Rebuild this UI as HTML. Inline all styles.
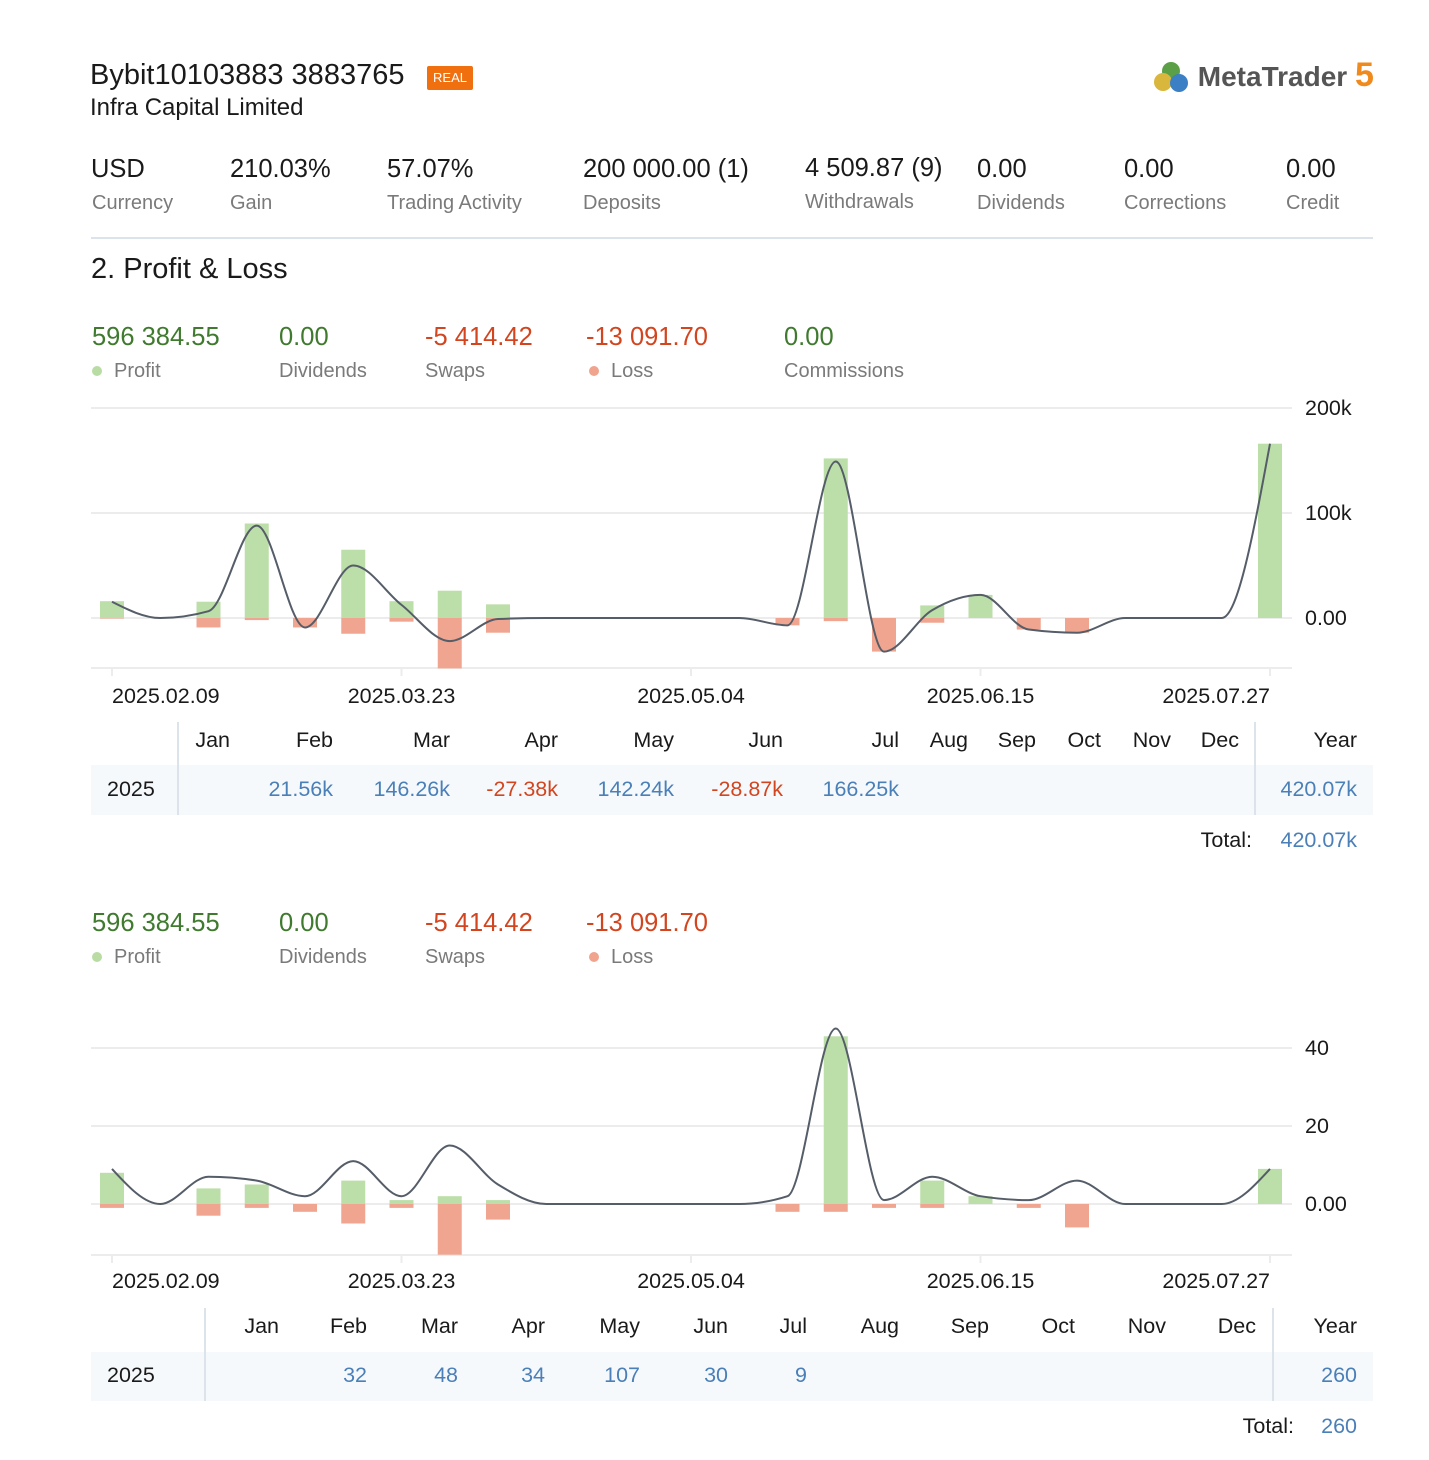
<!DOCTYPE html>
<html><head><meta charset="utf-8"><style>
body{margin:0;width:1429px;height:1460px;background:#fff;font-family:"Liberation Sans",sans-serif;position:relative;overflow:hidden;color:#1a1a1a}
.a{position:absolute;white-space:nowrap}
.v{font-size:25.5px;color:#1a1a1a}
.l{font-size:20px;color:#7a7a7a}
.g{color:#3f7a2e}.r{color:#d2451f}.b{color:#4a7fb8}
.t{font-size:21.5px}
.ra{transform:translateX(-100%)}
.dot{display:inline-block;width:10px;height:10px;border-radius:50%;margin-right:12px;vertical-align:1px}
</style></head><body>
<div class="a" style="left:90px;top:59px;font-size:29px">Bybit10103883 3883765</div>
<div class="a" style="left:427px;top:66px;width:46px;height:24px;background:#f0700f;color:#fff;font-size:13px;line-height:24px;text-align:center;border-radius:2px">REAL</div>
<div class="a" style="left:90px;top:94px;font-size:24px">Infra Capital Limited</div>
<div class="a" style="left:1152px;top:56px;font-size:28px;font-weight:bold;color:#555">
<svg width="38" height="36" style="vertical-align:-8px" viewBox="0 0 38 36"><circle cx="19" cy="13" r="9" fill="#5ba046"/><circle cx="11" cy="24" r="9" fill="#d9b73c"/><circle cx="27" cy="25" r="9" fill="#3b7fc4"/></svg> MetaTrader <span style="color:#f08a1c;font-size:34px">5</span></div>

<div>
<div class="a v" style="left:91px;top:155px">USD</div><div class="a l" style="left:92px;top:192px">Currency</div>
<div class="a v" style="left:230px;top:155px">210.03%</div><div class="a l" style="left:230px;top:192px">Gain</div>
<div class="a v" style="left:387px;top:155px">57.07%</div><div class="a l" style="left:387px;top:192px">Trading Activity</div>
<div class="a v" style="left:583px;top:155px">200 000.00 (1)</div><div class="a l" style="left:583px;top:192px">Deposits</div>
<div class="a v" style="left:805px;top:154px">4 509.87 (9)</div><div class="a l" style="left:805px;top:191px">Withdrawals</div>
<div class="a v" style="left:977px;top:155px">0.00</div><div class="a l" style="left:977px;top:192px">Dividends</div>
<div class="a v" style="left:1124px;top:155px">0.00</div><div class="a l" style="left:1124px;top:192px">Corrections</div>
<div class="a v" style="left:1286px;top:155px">0.00</div><div class="a l" style="left:1286px;top:192px">Credit</div>
</div>
<div class="a" style="left:91px;top:237px;width:1282px;height:2px;background:#dde3ea"></div>
<div class="a" style="left:91px;top:253px;font-size:29px">2. Profit &amp; Loss</div>

<div>
<div class="a v g" style="left:92px;top:323px">596 384.55</div><div class="a l" style="left:92px;top:360px"><span class="dot" style="background:#b8dca3"></span>Profit</div>
<div class="a v g" style="left:279px;top:323px">0.00</div><div class="a l" style="left:279px;top:360px">Dividends</div>
<div class="a v r" style="left:425px;top:323px">-5 414.42</div><div class="a l" style="left:425px;top:360px">Swaps</div>
<div class="a v r" style="left:586px;top:323px">-13 091.70</div><div class="a l" style="left:589px;top:360px"><span class="dot" style="background:#f0a48e"></span>Loss</div>
<div class="a v g" style="left:784px;top:323px">0.00</div><div class="a l" style="left:784px;top:360px">Commissions</div>
</div>

<svg id="c1" class="a" style="left:0;top:0" width="1429" height="720"></svg>

<div>
<div class="a" style="left:91px;top:765px;width:1282px;height:50px;background:#f6f9fc"></div>
<div class="a" style="left:177px;top:722px;width:2px;height:93px;background:#dde3ea"></div>
<div class="a" style="left:1254px;top:722px;width:2px;height:93px;background:#dde3ea"></div>
<div class="a t" style="left:107px;top:777px">2025</div>
<div id="t1"></div>
<div class="a t ra" style="left:1252px;top:828px">Total:</div>
<div class="a t b ra" style="left:1357px;top:828px">420.07k</div>
</div>

<div>
<div class="a v g" style="left:92px;top:909px">596 384.55</div><div class="a l" style="left:92px;top:946px"><span class="dot" style="background:#b8dca3"></span>Profit</div>
<div class="a v g" style="left:279px;top:909px">0.00</div><div class="a l" style="left:279px;top:946px">Dividends</div>
<div class="a v r" style="left:425px;top:909px">-5 414.42</div><div class="a l" style="left:425px;top:946px">Swaps</div>
<div class="a v r" style="left:586px;top:909px">-13 091.70</div><div class="a l" style="left:589px;top:946px"><span class="dot" style="background:#f0a48e"></span>Loss</div>
</div>

<svg id="c2" class="a" style="left:0;top:0" width="1429" height="1300"></svg>

<div>
<div class="a" style="left:91px;top:1352px;width:1282px;height:49px;background:#f6f9fc"></div>
<div class="a" style="left:204px;top:1308px;width:2px;height:93px;background:#dde3ea"></div>
<div class="a" style="left:1272px;top:1308px;width:2px;height:93px;background:#dde3ea"></div>
<div class="a t" style="left:107px;top:1363px">2025</div>
<div id="t2"></div>
<div class="a t ra" style="left:1294px;top:1414px">Total:</div>
<div class="a t b ra" style="left:1357px;top:1414px">260</div>
</div>

<script>
// chart 1 data (weekly, thousands)
const weekLabels1 = ["2025.02.09","2025.03.23","2025.05.04","2025.06.15","2025.07.27"];
const profit1 = [16,0,15.5,90,0,65,16,26,13,0,0,0,0,0,0,152,0,12,22,0,0,0,0,0,166];
const loss1 = [-0.5,0,-9,-2,-9,-15,-3.5,-48,-14,0,0,0,0,0,-7,-3,-32,-4.5,0,-11,-14,0,0,0,0];
const yTicks1 = [0,100,200];
const yTickText1 = ["0.00","100k","200k"];
// chart 2 data (trade counts)
const profit2 = [8,0,4,5,0,6,1,2,1,0,0,0,0,0,0,43,0,6,2,0,0,0,0,0,9];
const loss2 = [-1,0,-3,-1,-2,-5,-1,-13,-4,0,0,0,0,0,-2,-2,-1,-1,0,-1,-6,0,0,0,0];
const yTicks2 = [0,20,40];
const yTickText2 = ["0.00","20","40"];
// tables
const months = ["Jan","Feb","Mar","Apr","May","Jun","Jul","Aug","Sep","Oct","Nov","Dec","Year"];
const table1Vals = ["","21.56k","146.26k","-27.38k","142.24k","-28.87k","166.25k","","","","","","420.07k"];
const table2Vals = ["","32","48","34","107","30","9","","","","","","260"];

const NS="http://www.w3.org/2000/svg";
const wk = 1158/24, x0 = 112;
const X = i => x0 + i*wk;
function el(svg,tag,attrs){const e=document.createElementNS(NS,tag);for(const k in attrs)e.setAttribute(k,attrs[k]);svg.appendChild(e);return e;}
function sgn(v){return v<0?-1:1;}
function monotone(pts){
 const n=pts.length, t=new Array(n);
 for(let i=1;i<n-1;i++){
  const h0=pts[i][0]-pts[i-1][0], h1=pts[i+1][0]-pts[i][0];
  const s0=(pts[i][1]-pts[i-1][1])/h0, s1=(pts[i+1][1]-pts[i][1])/h1;
  const p=(s0*h1+s1*h0)/(h0+h1);
  t[i]=(sgn(s0)+sgn(s1))*Math.min(Math.abs(s0),Math.abs(s1),0.5*Math.abs(p))||0;
 }
 const hA=pts[1][0]-pts[0][0], sA=(pts[1][1]-pts[0][1])/hA;
 t[0]=(3*sA-t[1])/2;
 const hB=pts[n-1][0]-pts[n-2][0], sB=(pts[n-1][1]-pts[n-2][1])/hB;
 t[n-1]=(3*sB-t[n-2])/2;
 let d="M"+pts[0][0]+","+pts[0][1];
 for(let i=0;i<n-1;i++){const dx=(pts[i+1][0]-pts[i][0])/3;
  d+=" C"+(pts[i][0]+dx)+","+(pts[i][1]+dx*t[i])+" "+(pts[i+1][0]-dx)+","+(pts[i+1][1]-dx*t[i+1])+" "+pts[i+1][0]+","+pts[i+1][1];}
 return d;
}
function chart(id,profit,loss,yTicks,yText,zeroY,pxPer,bottomY,labelY){
 const svg=document.getElementById(id);
 const Y=v=>zeroY - v*pxPer;
 yTicks.forEach((t,i)=>{const g=el(svg,"line",{x1:91,x2:1292,y1:Y(t),y2:Y(t),stroke:"#ececec","stroke-width":2});
  
  
  const tx=el(svg,"text",{x:1305,y:Y(t)+7,"font-size":21.5,fill:"#1a1a1a","font-family":"Liberation Sans"});tx.textContent=yText[i];
  
  });
 el(svg,"line",{x1:91,x2:1292,y1:bottomY,y2:bottomY,stroke:"#ececec","stroke-width":2});
 weekLabels1.forEach((s,i)=>{const x=X(i*6);el(svg,"line",{x1:x,x2:x,y1:bottomY,y2:bottomY+8,stroke:"#ececec","stroke-width":2});
  const anchor = i===0?"start":(i===weekLabels1.length-1?"end":"middle");
  const tx=el(svg,"text",{x:x,y:labelY,"font-size":21.5,fill:"#1a1a1a","text-anchor":anchor,"font-family":"Liberation Sans"});tx.textContent=s;
  
  });
 profit.forEach((v,i)=>{if(v>0){const r=el(svg,"rect",{x:X(i)-12,y:Y(v),width:24,height:zeroY-Y(v),fill:"#bcdea8"});
  
  }});
 loss.forEach((v,i)=>{if(v<0){const r=el(svg,"rect",{x:X(i)-12,y:zeroY,width:24,height:Y(v)-zeroY,fill:"#f0a590"});
  
  }});
 const pts=profit.map((v,i)=>[X(i),Y(v+(id==="c1"?loss[i]:-loss[i]))]);
 const p=el(svg,"path",{d:monotone(pts),fill:"none",stroke:"#555d68","stroke-width":2});
 
 
}
chart("c1",profit1,loss1,yTicks1,yTickText1,618,1.05,668,703);
chart("c2",profit2,loss2,yTicks2,yTickText2,1204,3.9,1255,1288);

function table(id,rights,vals,topH,topV){
 const host=document.getElementById(id);
 months.forEach((m,i)=>{const h=document.createElement("div");h.className="a t ra";h.style.left=rights[i]+"px";h.style.top=topH+"px";h.textContent=m;
  
  host.appendChild(h);
  if(vals[i]){const v=document.createElement("div");v.className="a t ra "+(vals[i][0]==="-"?"r":"b");v.style.left=rights[i]+"px";v.style.top=topV+"px";v.textContent=vals[i];
  
  host.appendChild(v);}});
}
table("t1",[230,333,450,558,674,783,899,968,1036,1101,1171,1239,1357],table1Vals,728,777);
table("t2",[279,367,458,545,640,728,807,899,989,1075,1166,1256,1357],table2Vals,1314,1363);
</script>
</body></html>
